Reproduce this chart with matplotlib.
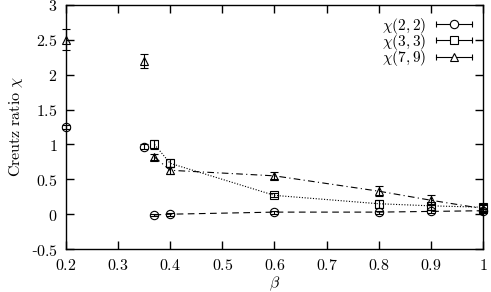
import numpy as np
import matplotlib
matplotlib.use("Agg")
import matplotlib.pyplot as plt
from matplotlib.lines import Line2D
from matplotlib.legend_handler import HandlerBase
from matplotlib.ticker import FuncFormatter

plt.rcParams['mathtext.fontset'] = 'cm'
plt.rcParams['font.family'] = 'serif'
plt.rcParams['font.serif'] = ['DejaVu Serif']

# chi(2,2)
beta22 = [0.2, 0.35, 0.37, 0.4, 0.6, 0.8, 0.9, 1.0]
chi22 = [1.25, 0.97, -0.01, 0.0, 0.03, 0.03, 0.04, 0.05]
err22 = [0.03, 0.03, 0.02, 0.02, 0.02, 0.02, 0.02, 0.03]
line22 = 2  # line starts at this index

# chi(3,3)
beta33 = [0.37, 0.4, 0.6, 0.8, 0.9, 1.0]
chi33 = [1.0, 0.73, 0.27, 0.15, 0.12, 0.10]
err33 = [0.06, 0.06, 0.03, 0.06, 0.06, 0.05]
line33 = 0

# chi(7,9)
beta79 = [0.2, 0.35, 0.37, 0.4, 0.6, 0.8, 0.9, 1.0]
chi79 = [2.5, 2.2, 0.82, 0.63, 0.55, 0.33, 0.20, 0.08]
err79 = [0.15, 0.1, 0.05, 0.05, 0.05, 0.07, 0.07, 0.05]
line79 = 2

series = [
    (beta22, chi22, err22, line22, 'o', (0, (6, 4)), r'$\chi(2,2)$'),
    (beta33, chi33, err33, line33, 's', (0, (1, 1.5)), r'$\chi(3,3)$'),
    (beta79, chi79, err79, line79, '^', (0, (6, 3, 1, 3)), r'$\chi(7,9)$'),
]


class HBar(HandlerBase):
    # gnuplot style key: |--o--|
    def create_artists(self, legend, orig, xd, yd, w, h, fs, trans):
        y = h / 2 - yd
        x0, x1 = -xd, w - xd
        ln = Line2D([x0, x1], [y, y], color='k', lw=0.8)
        cap = Line2D([x0, x1], [y, y], lw=0, color='k', marker='|', ms=5, mew=0.8)
        mk = Line2D([(x0 + x1) / 2], [y], lw=0, marker=orig.get_marker(),
                    mfc='white', mec='k', ms=6, mew=0.8)
        for a in (ln, cap, mk):
            a.set_transform(trans)
        return [ln, cap, mk]


fig = plt.figure(figsize=(4.91, 2.92), dpi=100)
ax = fig.add_axes([0.134, 0.147, 0.850, 0.836])

handles = []
for b, c, e, start, mk, ls, lab in series:
    ax.errorbar(b, c, yerr=e, fmt=mk, mfc='none', mec='k', ms=6, mew=0.8,
                ecolor='k', elinewidth=0.8, capsize=3, capthick=0.8, clip_on=False)
    ax.plot(b[start:], c[start:], color='k', lw=0.8, linestyle=ls)
    handles.append(Line2D([], [], marker=mk))

ax.set_xlim(0.2, 1.0)
ax.set_ylim(-0.5, 3.0)
ax.set_xticks(np.arange(0.2, 1.01, 0.1))
ax.set_yticks(np.arange(-0.5, 3.01, 0.5))
fmt = FuncFormatter(lambda v, p: '$%g$' % round(v, 2) if v >= 0 else '-$%g$' % abs(round(v, 2)))
ax.xaxis.set_major_formatter(fmt)
ax.yaxis.set_major_formatter(fmt)
ax.tick_params(direction='in', top=True, right=True, length=6, width=1, labelsize=11.5, pad=6)
for s in ax.spines.values():
    s.set_linewidth(1)

ax.set_xlabel(r'$\beta$', fontsize=11.5, labelpad=0)
ax.set_ylabel(r'$\mathrm{Creutz\ ratio}\ \chi$', fontsize=11.5, labelpad=4)

leg = ax.legend(handles, [s[-1] for s in series], handler_map={Line2D: HBar()},
                loc='upper right', frameon=False, markerfirst=False, handlelength=2.4,
                fontsize=11, labelspacing=-0.25, handletextpad=0.6,
                borderaxespad=0.4, borderpad=0.3, handleheight=0.5)

fig.savefig('out.png', dpi=100)
